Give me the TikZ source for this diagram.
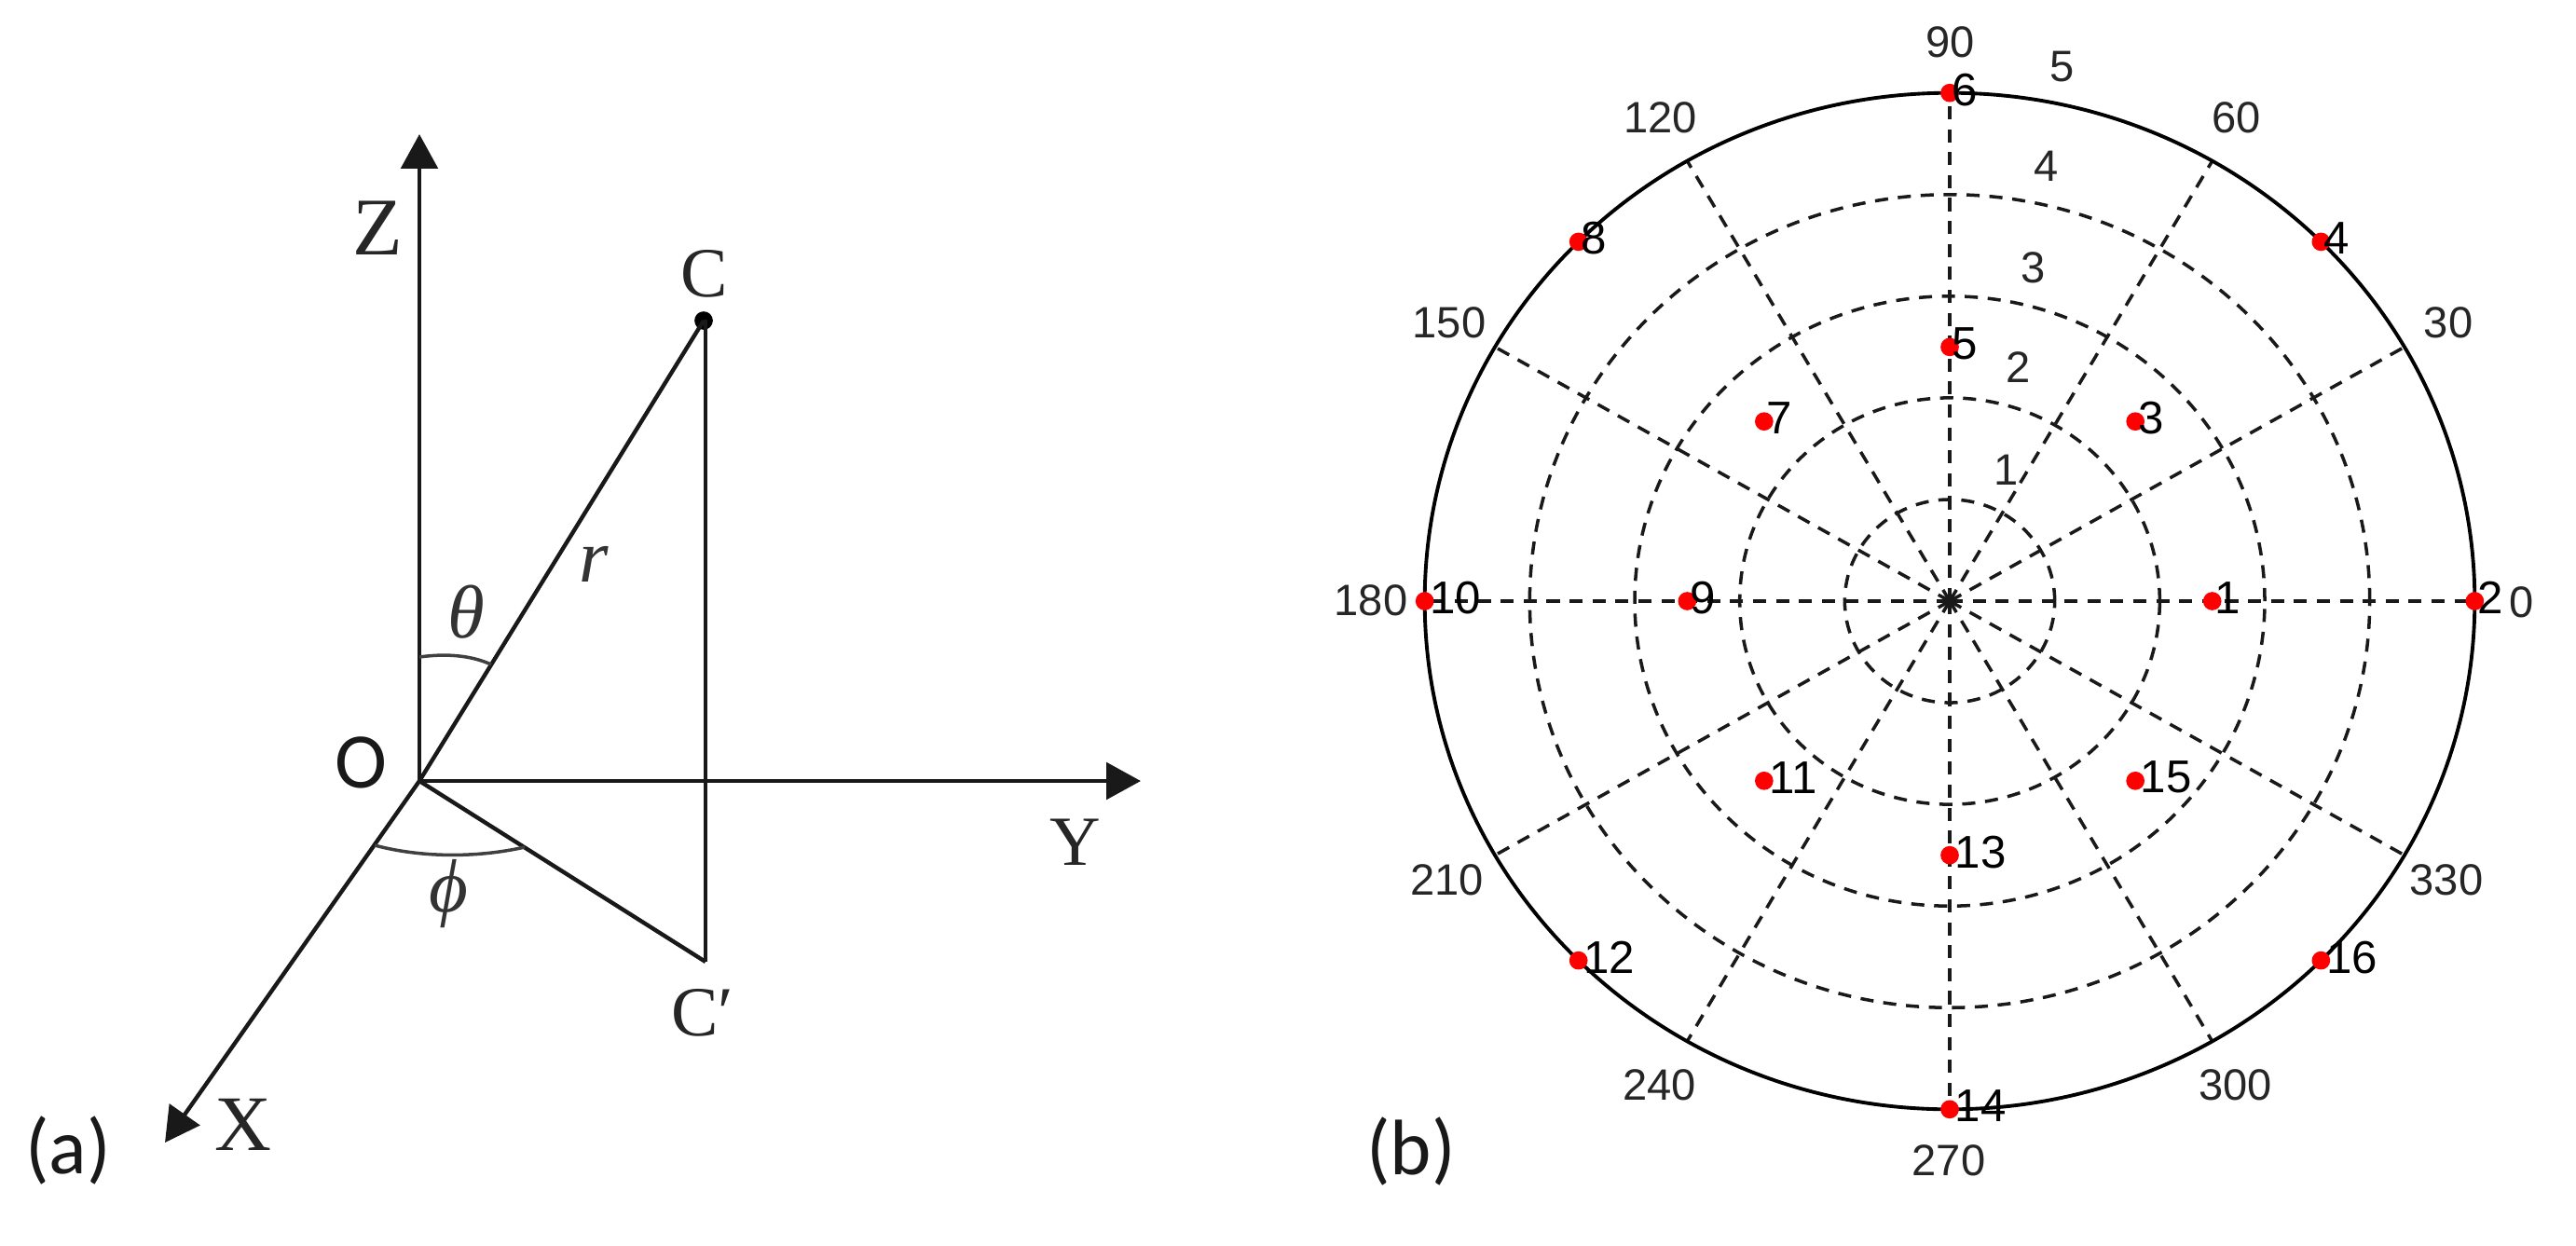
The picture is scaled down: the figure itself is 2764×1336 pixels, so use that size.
\documentclass[tikz,border=0pt]{standalone}
\usepackage{fontspec}
\setmainfont{Liberation Sans}
\newfontfamily\serifface{Liberation Serif}
\newfontfamily\panelface{Carlito}
\usetikzlibrary{arrows.meta,calc}
\tikzset{
  x=0.01cm,y=-0.01cm,
  axisline/.style={line width=1.25pt,black!90},
  axisarrow/.style={axisline,-{Triangle[length=10.5pt,width=11.2pt]}},
  anglearc/.style={line width=1pt,black!75},
  serif/.style={inner sep=0pt,font=\serifface\fontsize{21.5}{24}\selectfont,text=black!85},
  ital/.style={inner sep=0pt,font=\serifface\itshape\fontsize{23}{24}\selectfont,text=black!80},
  panel/.style={inner sep=0pt,font=\panelface\fontsize{24}{28}\selectfont,text=black!90},
  sans/.style={inner sep=0pt,font=\fontsize{13.4}{15}\selectfont,text=black!85},
  gridline/.style={line width=1pt,black!90,dash pattern=on 4pt off 3pt},
  outer/.style={line width=1.1pt,black},
  reddot/.style={circle,fill=red,inner sep=0pt,minimum size=5.6pt},
  dotlabel/.style={inner sep=0pt,anchor=west,yshift=1pt,font=\fontsize{14}{16}\selectfont,text=black},
}
\begin{document}
\begin{tikzpicture}
\useasboundingbox (0,0) rectangle (2764,1336);
% panel (a)
\coordinate (O) at (450,838);
\coordinate (Ztip) at (450,144);
\coordinate (Ytip) at (1224,838);
\coordinate (Xtip) at (177,1226);
\coordinate (Ctop) at (757,343);
\coordinate (Cp) at (757,1032);
\node[circle,fill=black,inner sep=0pt,minimum size=5.6pt] (Cdot) at (755,344) {};
\draw[axisarrow] (O) -- (Ztip);
\draw[axisarrow] (O) -- (Ytip);
\draw[axisarrow] (O) -- (Xtip);
\draw[axisline] (O) -- (Cdot.center);
\draw[axisline] (Ctop) -- (Cp);
\draw[axisline] (O) -- (Cp);
\coordinate (th1) at (450,705);
\coordinate (th2) at (527,713);
\coordinate (ph1) at (402,907);
\coordinate (ph2) at (563,909);
\draw[anglearc] (th1) .. controls (478,701) and (505,703) .. (th2);
\draw[anglearc] (ph1) .. controls (450,920) and (510,921) .. (ph2);
\node[serif,font=\serifface\fontsize{25}{28}\selectfont] (lZ) at (405,245) {Z};
\node[serif] (lC) at (756,294) {C};
\node[serif] (lCp) at (754,1087) {C′};
\node[serif] (lY) at (1154,904) {Y};
\node[serif,font=\serifface\fontsize{24}{28}\selectfont] (lX) at (261,1207) {X};
\node[ital] (lr) at (637,605) {r};
\node[ital] (lth) at (500,657) {θ};
\node[ital] (lph) at (481,959) {ϕ};
\node[panel] (lO) at (387,818) {O};
\node[panel] (la) at (73,1234) {(a)};
\node[panel] (lb) at (1514,1235) {(b)};
% panel (b)
\coordinate (c) at (2092,645);
\foreach \a in {0,30,...,330}{
  \coordinate (s\a) at ($(c)+(\a:5.63cm and 5.45cm)$);
  \draw[gridline] (c) -- (s\a);
}
\foreach \k in {1,2,3,4}{
  \draw[gridline] (c) ellipse [x radius=\k*1.126cm, y radius=\k*1.09cm];
}
\draw[outer] (c) ellipse [x radius=5.63cm, y radius=5.45cm];
% angle and radius labels
\node[sans] (t90) at (2092.6,45.5) {90};
\node[sans] (r5) at (2213,71.5) {5};
\node[sans] (t120) at (1781.5,126) {120};
\node[sans] (t60) at (2399.5,126) {60};
\node[sans] (r4) at (2196,178) {4};
\node[sans] (r3) at (2182,287) {3};
\node[sans] (t150) at (1555,346) {150};
\node[sans] (t30) at (2627,346) {30};
\node[sans] (r2) at (2166,394) {2};
\node[sans] (r1) at (2152.5,504) {1};
\node[sans] (t180) at (1471,644) {180};
\node[sans] (t0) at (2706,646) {0};
\node[sans] (t210) at (1552.5,944) {210};
\node[sans] (t330) at (2625,944) {330};
\node[sans] (t240) at (1780.7,1164) {240};
\node[sans] (t300) at (2398.6,1164) {300};
\node[sans] (t270) at (2091,1245) {270};
% measurement points
\foreach \n/\a/\f in {1/0/2.5,2/0/5,3/45/2.5,4/45/5,5/90/2.5,6/90/5,7/135/2.5,8/135/5,9/180/2.5,10/180/5,11/225/2.5,12/225/5,13/270/2.5,14/270/5,15/315/2.5,16/315/5}{
  \node[reddot] (d\n) at ($(c)+(\a:\f*1.126cm and \f*1.09cm)$) {};
}
\foreach \n in {1,...,9}{
  \node[dotlabel,xshift=0.6pt] (l\n) at (d\n.center) {\n};
}
\foreach \n in {10,...,16}{
  \node[dotlabel,xshift=1.4pt] (l\n) at (d\n.center) {\n};
}
\end{tikzpicture}
\end{document}
